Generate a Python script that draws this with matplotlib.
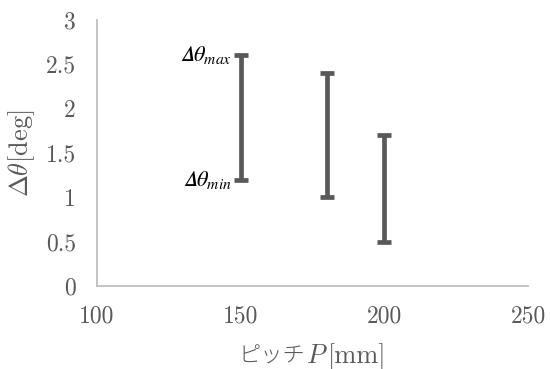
import numpy as np
import matplotlib
matplotlib.use("Agg")
import matplotlib.pyplot as plt
from matplotlib.offsetbox import TextArea, HPacker, AnchoredOffsetbox

plt.rcParams['font.family'] = ['cmr10', 'Noto Sans CJK JP']
plt.rcParams['mathtext.fontset'] = 'cm'
plt.rcParams['axes.unicode_minus'] = False

pitch = [150, 180, 200]
theta_max = [2.6, 2.4, 1.7]
theta_min = [1.2, 1.0, 0.5]

xticks = [100, 150, 200, 250]
yticks = [0, 0.5, 1, 1.5, 2, 2.5, 3]
ytick_labels = ['0', '0.5', '1', '1.5', '2', '2.5', '3']

grey = '#595959'

fig = plt.figure(figsize=(5.5, 3.69), dpi=100)
ax = fig.add_axes([0.176, 0.225, 0.784, 0.721])

mid = (np.array(theta_max) + np.array(theta_min)) / 2
half = (np.array(theta_max) - np.array(theta_min)) / 2
ax.errorbar(pitch, mid, yerr=half, fmt='none', ecolor=grey,
            elinewidth=3.4, capsize=4.7, capthick=3.4)

# italic capital delta (U+1D6E5) like the reference annotations
ax.text(pitch[0] - 3, theta_max[0], '$\U0001D6E5\\theta_{max}$',
        ha='right', va='center', fontsize=16, color='black',
        math_fontfamily='stix')
ax.text(pitch[0] - 3, theta_min[0], '$\U0001D6E5\\theta_{min}$',
        ha='right', va='center', fontsize=16, color='black',
        math_fontfamily='stix')

ax.set_xlim(100, 250)
ax.set_ylim(0, 3)
ax.set_xticks(xticks)
ax.set_yticks(yticks)
ax.set_yticklabels(ytick_labels)
ax.tick_params(length=0, labelsize=17, colors=grey)
ax.tick_params(axis='x', pad=14)
ax.tick_params(axis='y', pad=15)

for s in ['top', 'right']:
    ax.spines[s].set_visible(False)
for s in ['left', 'bottom']:
    ax.spines[s].set_color('#bfbfbf')
    ax.spines[s].set_linewidth(1.3)

ax.set_ylabel(r'$\Delta\theta$[deg]', fontsize=19, color=grey, labelpad=6)

# x label: katakana + italic P + [mm]
lab_parts = [
    TextArea('ピッチ', textprops=dict(family='Noto Sans CJK JP', fontsize=16, color=grey, weight='light')),
    TextArea('$P$', textprops=dict(fontsize=19, color=grey)),
    TextArea('[mm]', textprops=dict(family='cmr10', fontsize=19, color=grey)),
]
lab_box = HPacker(children=lab_parts, pad=0, sep=0, align='baseline')
anch = AnchoredOffsetbox(loc='upper center', child=lab_box, frameon=False,
                         pad=0, borderpad=0, bbox_to_anchor=(0.5, -0.215),
                         bbox_transform=ax.transAxes)
ax.add_artist(anch)

fig.savefig('out.png', dpi=100)
